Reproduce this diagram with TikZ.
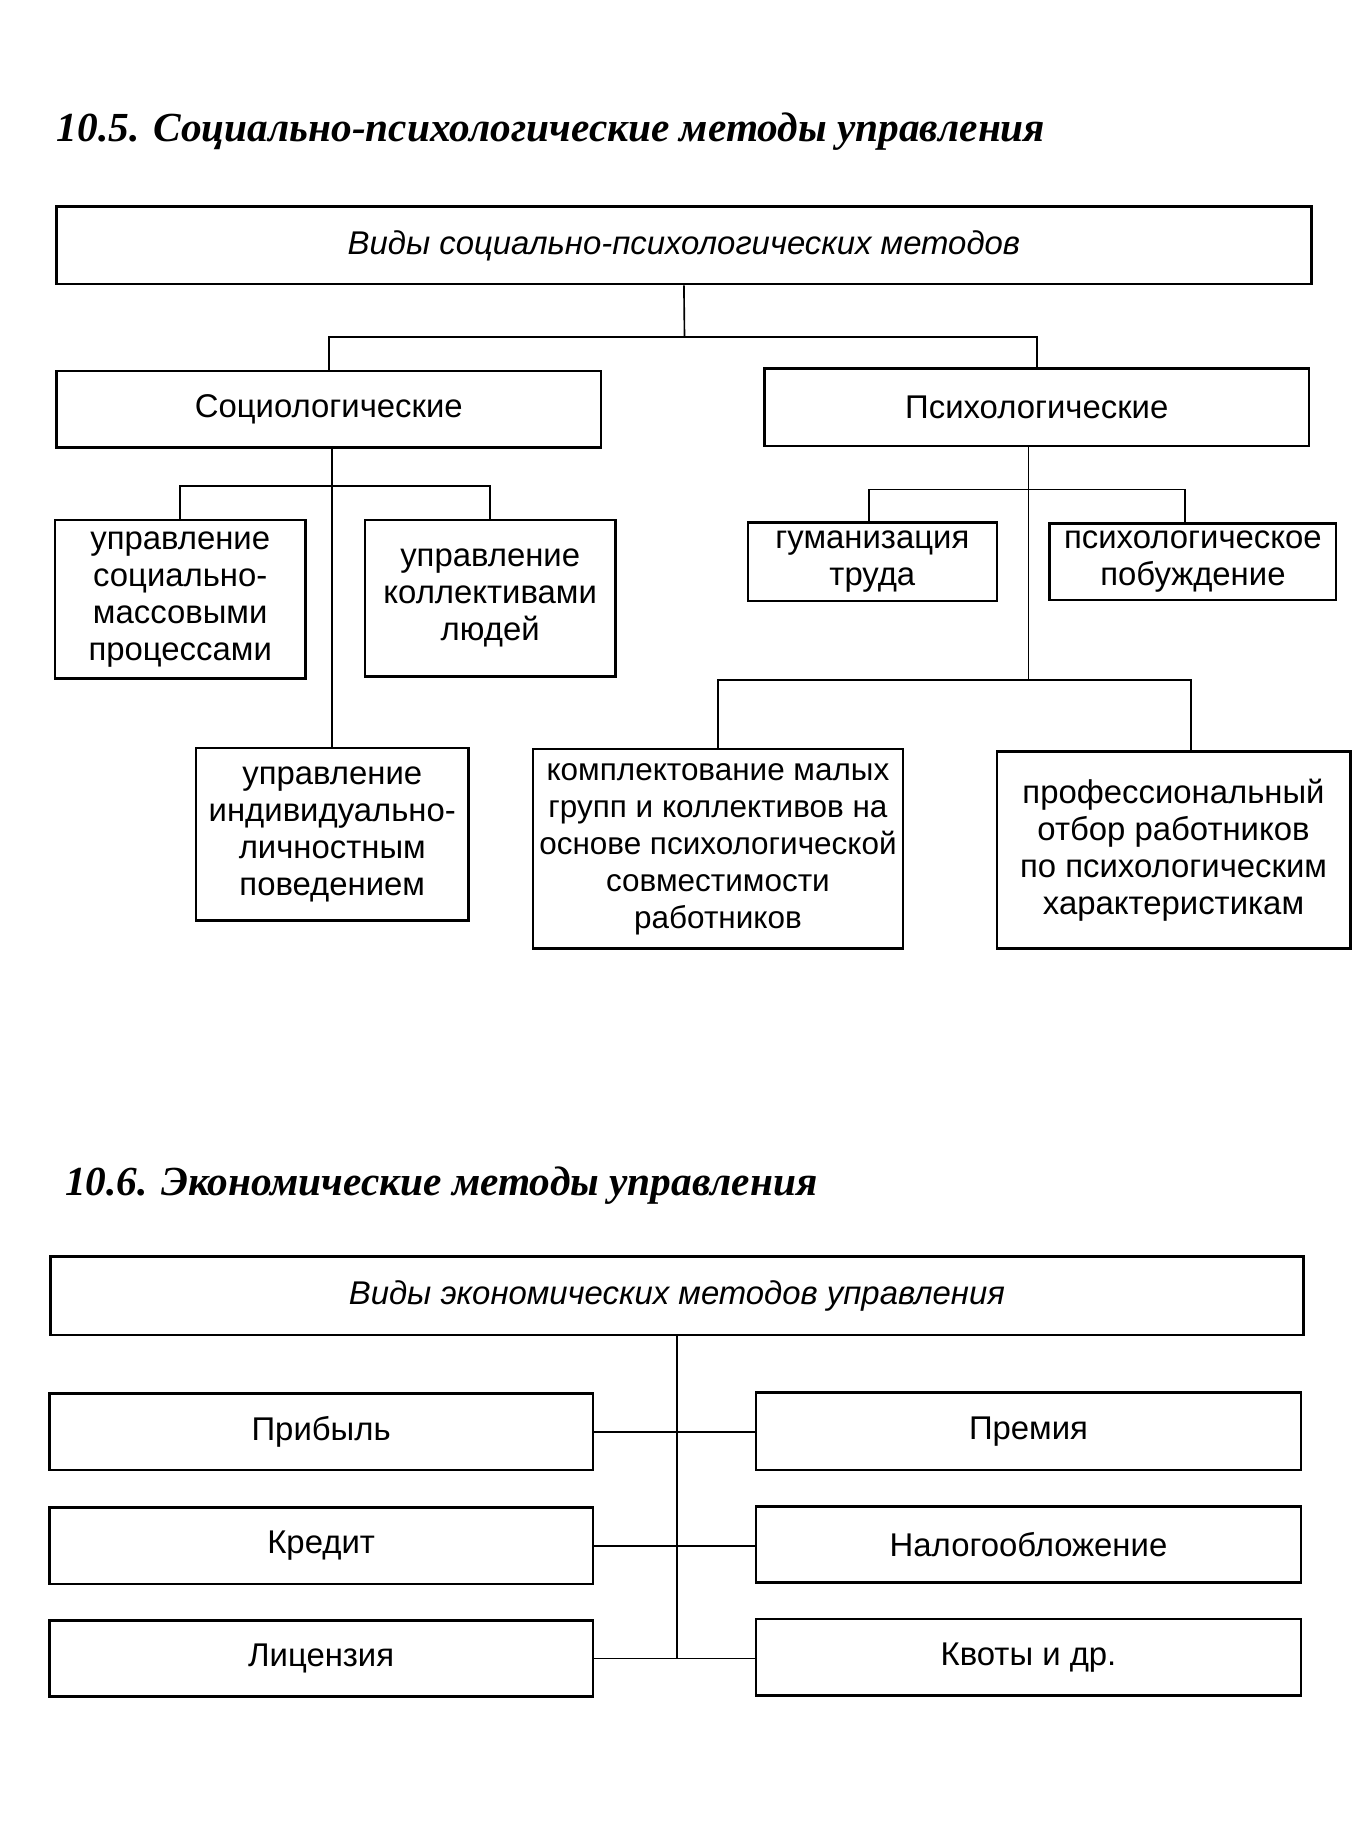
\documentclass[tikz,border=0pt]{standalone}
\usepackage{fontspec}
\setmainfont{Liberation Serif}
\setsansfont{Liberation Sans}
\begin{document}
\begin{tikzpicture}[x=0.5pt,y=-0.5pt,
  box/.style={draw,line width=1.1pt,rectangle,inner sep=1pt,align=center,
    font=\sffamily\fontsize{14}{15.75}\selectfont},
  ibox/.style={box,font=\sffamily\itshape\fontsize{14}{15.75}\selectfont},
  conn/.style={line width=0.7pt},
  ttl/.style={anchor=west,inner sep=0pt,font=\bfseries\itshape\fontsize{17.6}{20}\selectfont}]
\useasboundingbox (0,0) rectangle (1151,1568);
% ---------- Section 10.5 ----------
\node[ttl] (t1) at (48,112) {10.5. Социально-психологические методы управления};
\node[ibox,minimum width=534.5pt,minimum height=33pt] (top1) at (582.5,209) {Виды социально-психологических методов};
\node[box,minimum width=232pt,minimum height=32.5pt] (soc) at (280,348.5) {Социологические};
\node[box,minimum width=232pt,minimum height=33pt] (psy) at (883,347) {Психологические};
\node[box,minimum width=106.5pt,minimum height=67.5pt] (b1) at (153.5,510.5) {управление\\социально-\\массовыми\\процессами};
\node[box,minimum width=106.5pt,minimum height=66.5pt] (b2) at (417.5,509.5) {управление\\коллективами\\людей};
\node[box,minimum width=116pt,minimum height=73.5pt] (b3) at (283,710.5) {управление\\индивидуально-\\личностным\\поведением};
\node[box,minimum width=106pt,minimum height=33.5pt] (b4) at (743,478.5) {гуманизация\\труда};
\node[box,minimum width=122pt,minimum height=32.5pt] (b5) at (1016,478.5) {психологическое\\побуждение};
\node[box,minimum width=157.5pt,minimum height=85pt,
  font=\sffamily\fontsize{13.4}{15.75}\selectfont] (b6) at (611.5,723) {комплектование малых\\групп и коллективов на\\основе психологической\\совместимости\\работников};
\node[box,minimum width=150.5pt,minimum height=84pt] (b7) at (999.5,724) {профессиональный\\отбор работников\\по психологическим\\характеристикам};
\coordinate (j1) at (583,287);
\coordinate (j3) at (876,579);
\draw[conn] (top1.south) -- (j1);
\draw[conn] (soc.north) -- (soc.north |- j1) -- (psy.north |- j1) -- (psy.north);
\draw[conn] (soc.south -| b3.north) -- (b3.north);
\draw[conn] (b1.north) -- ++(0,-28) -| (b2.north);
\draw[conn] (psy.south -| j3) -- (j3);
\draw[conn] ([xshift=-1.5pt]b4.north) -- ++(0,-27) -| ([xshift=-3.5pt]b5.north);
\draw[conn] (b6.north) -- (b6.north |- j3) -- ([xshift=7.5pt]b7.north |- j3) -- ([xshift=7.5pt]b7.north);
% ---------- Section 10.6 ----------
\node[ttl] (t2) at (55,1010) {10.6. Экономические методы управления};
\node[ibox,minimum width=533.5pt,minimum height=33.5pt] (top2) at (576.5,1103.5) {Виды экономических методов управления};
\node[box,minimum width=231.5pt,minimum height=32.5pt] (l1) at (273.5,1219.5) {Прибыль};
\node[box,minimum width=231.5pt,minimum height=32.5pt] (l2) at (273.5,1316.5) {Кредит};
\node[box,minimum width=231.5pt,minimum height=32.5pt] (l3) at (273.5,1412.5) {Лицензия};
\node[box,minimum width=232pt,minimum height=33pt] (r1) at (876,1219) {Премия};
\node[box,minimum width=232pt,minimum height=32.5pt] (r2) at (876,1315.5) {Налогообложение};
\node[box,minimum width=232pt,minimum height=32.5pt] (r3) at (876,1411.5) {Квоты и др.};
\draw[conn] (top2.south) -- (top2.south |- l3.east);
\draw[conn] (l1.east) -- (l1.east -| r1.west);
\draw[conn] (l2.east) -- (l2.east -| r2.west);
\draw[conn] (l3.east) -- (l3.east -| r3.west);
\end{tikzpicture}
\end{document}
